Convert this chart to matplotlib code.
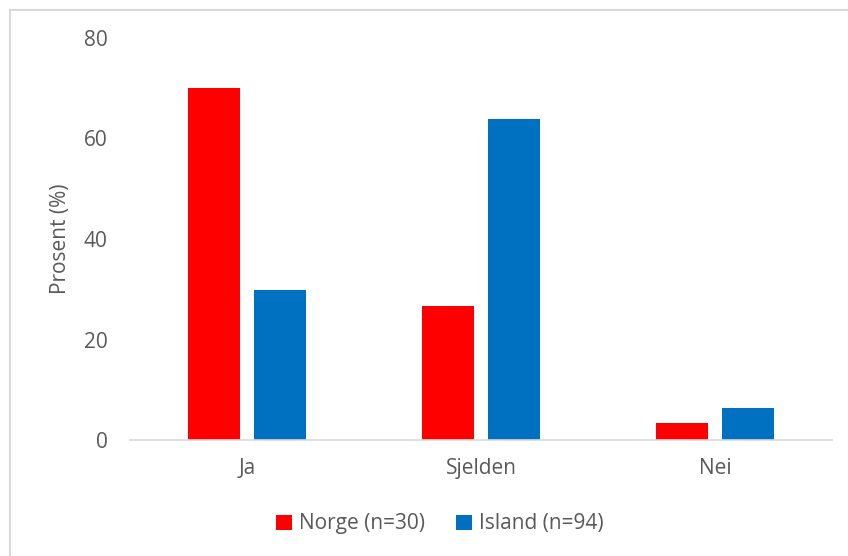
import numpy as np
import matplotlib
matplotlib.use("Agg")
import matplotlib.pyplot as plt
from matplotlib.lines import Line2D

categories = ["Ja", "Sjelden", "Nei"]
norge = [70.0, 26.7, 3.3]
island = [29.8, 63.8, 6.4]
series_labels = ["Norge (n=30)", "Island (n=94)"]
y_ticks = [0, 20, 40, 60, 80]

plt.rcParams['font.family'] = ['Open Sans', 'DejaVu Sans']
txt = '#595959'

fig = plt.figure(figsize=(8.48, 5.56), dpi=100)
ax = fig.add_axes([130/848, 116/556, 702/848, 402/556])

x = np.arange(len(categories))
w = 0.222
ax.bar(x - 0.142, norge, w, color='#FF0000', label=series_labels[0])
ax.bar(x + 0.142, island, w, color='#0070C0', label=series_labels[1])

ax.set_xlim(-0.5, len(categories) - 0.5)
ax.set_ylim(0, 80)
ax.set_yticks(y_ticks)
ax.set_xticks(x)
ax.set_xticklabels(categories)
ax.tick_params(axis='both', length=0, labelsize=15, colors=txt)
ax.tick_params(axis='x', pad=13)
ax.tick_params(axis='y', pad=16)
for s in ['top', 'right', 'left']:
    ax.spines[s].set_visible(False)
ax.spines['bottom'].set_color('#d9d9d9')
ax.spines['bottom'].set_linewidth(1.2)
ax.set_ylabel('Prosent (%)', fontsize=15, color=txt, labelpad=9)

leg = fig.legend(loc='center', bbox_to_anchor=(440/848, 1 - 524/556), ncol=2,
                 frameon=False, fontsize=15, handlelength=0.75, handleheight=0.75,
                 handletextpad=0.35, columnspacing=1.5)
for t in leg.get_texts():
    t.set_color(txt)

# outer frame (left and top edges visible)
fig.add_artist(Line2D([10/848, 10/848], [0, 1 - 10/556], transform=fig.transFigure,
                      color='#d9d9d9', lw=1.5))
fig.add_artist(Line2D([10/848, 1], [1 - 10/556, 1 - 10/556], transform=fig.transFigure,
                      color='#d9d9d9', lw=1.5))

fig.savefig('out.png', dpi=100)
